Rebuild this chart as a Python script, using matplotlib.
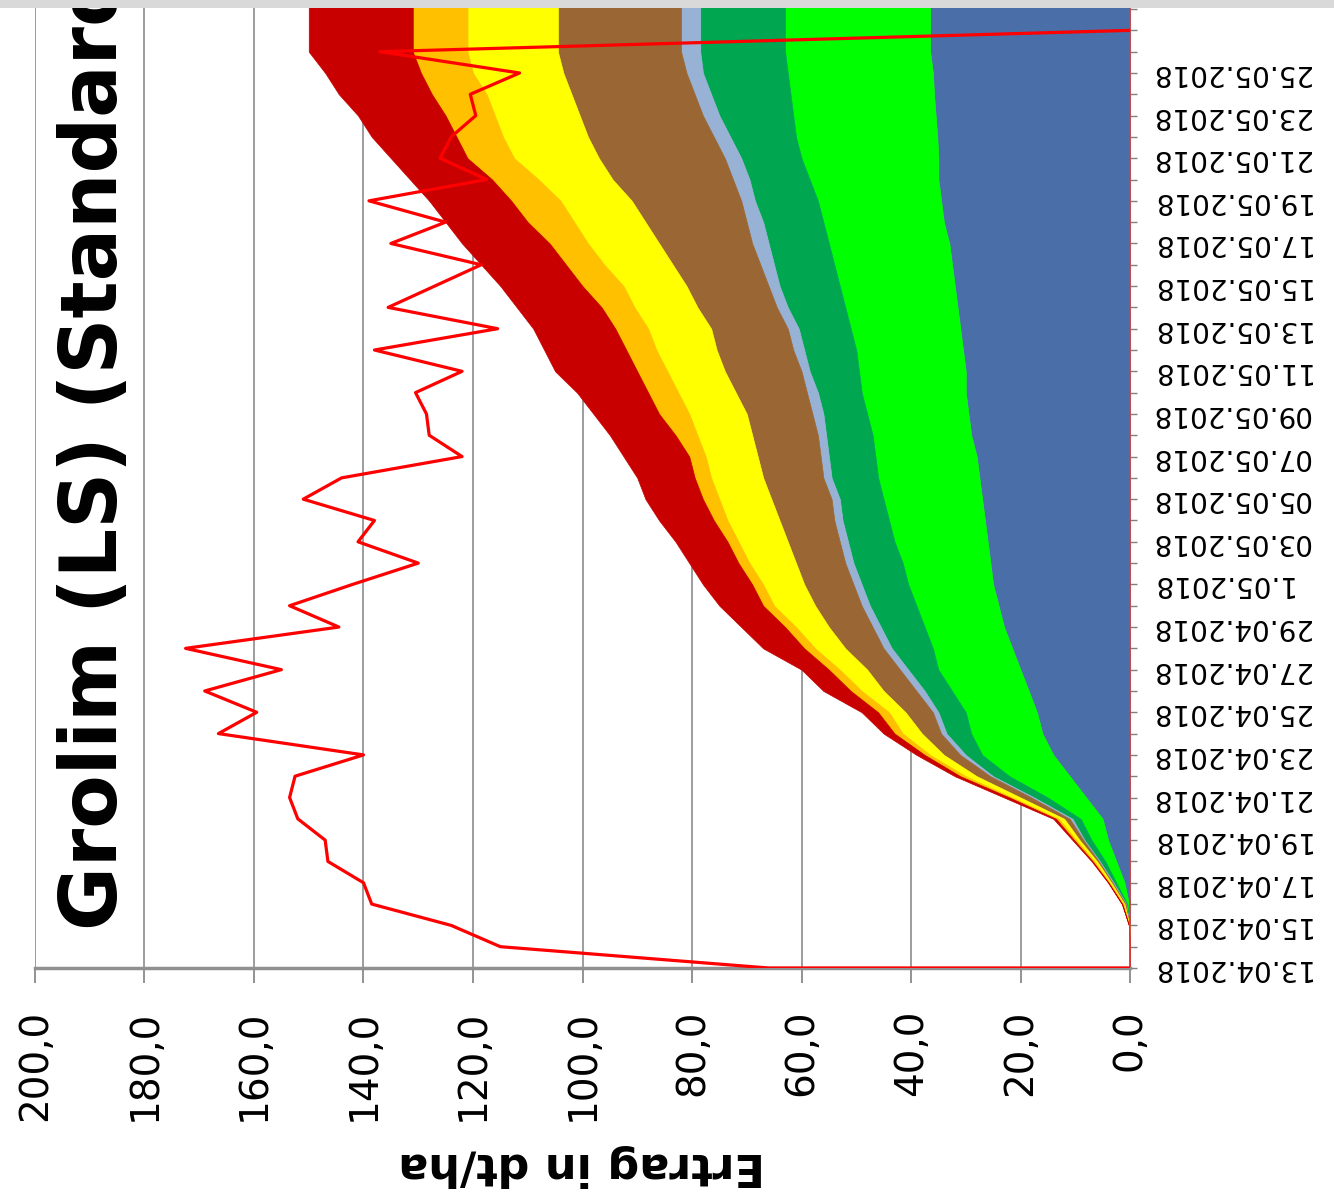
import numpy as np
import matplotlib.pyplot as plt
from matplotlib.patches import Rectangle
from matplotlib.ticker import FuncFormatter, MultipleLocator

# day 0 = 13.04.2018, one value per day; the picture is the chart turned 90 deg
date_labels = ["13.04.2018", "15.04.2018", "17.04.2018", "19.04.2018",
               "21.04.2018", "23.04.2018", "25.04.2018", "27.04.2018",
               "29.04.2018", "1.05.2018", "03.05.2018", "05.05.2018",
               "07.05.2018", "09.05.2018", "11.05.2018", "13.05.2018",
               "15.05.2018", "17.05.2018", "19.05.2018", "21.05.2018",
               "23.05.2018", "25.05.2018"]

# stacked layers (dt/ha), first layer sits on 0
blue = [0, 0, 0.1, 0.2, 1.0, 2.5, 4.0, 5.0, 8.0, 11, 14, 16, 17, 18.5, 20, 21.5,
        23, 24, 25, 25.5, 26, 26.5, 27, 27.5, 28, 29, 29.5, 30, 30, 30.5, 31,
        31.5, 32, 32.5, 33, 34, 34.5, 35, 35, 35.2, 35.5, 35.8, 36, 36.5,
        36.5, 36.5, 36.5]
light_green = [0, 0, 0, 0.3, 1.5, 2.0, 3.0, 4.0, 7.0, 11, 13, 13, 13, 14, 15,
               14.5, 14.5, 15, 15.5, 16, 17, 17.5, 18, 18.5, 18.5, 18, 18.5,
               19, 19.5, 19.5, 20, 20.5, 21, 21.5, 22, 22, 22.5, 23.5, 25,
               25.8, 26, 26.2, 26.5, 26.5, 26.5, 26.5, 26.5]
dark_green = [0, 0, 0, 0.2, 0.5, 1.0, 1.3, 1.5, 2.5, 3, 3, 4.5, 5, 5, 5.5, 7.5,
              8, 8.5, 8.5, 9, 8.5, 8.5, 8, 8.5, 8.5, 8.5, 8, 8, 9, 9.5, 9.5,
              10.5, 11, 11, 11, 11, 11.5, 11, 11, 12, 13.5, 14.5, 15.5, 15.5,
              15.5, 15.5, 15.5]
grey_blue = [0, 0, 0, 0.1, 0.2, 0.2, 0.2, 0.5, 0.5, 0.5, 1, 1, 1, 1.5, 1.5, 1.5,
             1.5, 1.5, 1.5, 1.5, 1.5, 1.5, 1.5, 1.5, 1.5, 1.5, 2, 2, 1.5, 2, 2,
             2, 2, 2.5, 3, 3, 2.5, 3, 3, 3, 3, 3, 3, 3.5, 3.5, 3.5, 3.5]
brown = [0, 0, 0, 0.2, 0.2, 0.3, 0.7, 1.0, 2.0, 2.5, 3, 3.5, 5, 6, 6, 7, 8, 8.5,
         9, 9, 9.5, 10, 11, 11, 11.5, 12, 12, 13, 14, 14, 14, 14.5, 15, 16, 17,
         18.5, 20, 22, 23, 23, 22.5, 22.5, 22.5, 22.5, 22.5, 22.5, 22.5]
yellow = [0, 0, 0, 0.2, 0.3, 0.5, 0.6, 1.0, 1.5, 2, 2.5, 3.5, 3, 4, 5, 5.5, 6,
          7.5, 7.5, 8.5, 9, 9.5, 9.5, 9.5, 9.5, 10, 10.5, 10.5, 10.5, 11, 11.5,
          11.5, 11.5, 12.5, 13, 13, 13, 13.5, 15.5, 15.5, 15.5, 15.5, 16.5,
          16.5, 16.5, 16.5, 16.5]
orange = [0, 0, 0.1, 0.2, 0.2, 0.3, 0.4, 0.5, 0.5, 1, 1, 1.5, 2, 2, 2, 2, 2, 2,
          2, 2, 2, 2.5, 3, 3, 3, 4, 5.5, 5.5, 5.5, 5.5, 6, 6, 7.5, 7, 7, 8.5, 9,
          8.5, 8.5, 8.5, 9, 10, 9.5, 10, 10, 10, 10]
dark_red = [0, 0, 0, 0.1, 0.1, 0.2, 0.3, 0.5, 1.0, 1, 1.5, 2, 3, 5, 5, 7.5, 8, 8,
            9, 9, 9.5, 10, 10.5, 10.5, 12, 12, 12, 13, 15, 15, 15, 15.5, 15,
            15.5, 16, 15, 15, 15, 14, 15.5, 16, 17, 17.5, 19, 19, 19, 19]

layers = [blue, light_green, dark_green, grey_blue, brown, yellow, orange, dark_red]
layer_colors = ['#4A6FA8', '#00FF00', '#00A650', '#98B2D6', '#9A6633',
                '#FFFF00', '#FFC000', '#C80000']

# red line (first point repeats day 0 at 0)
red_days = [0] + list(range(45))
red_vals = [0, 66, 115, 124, 138.5, 140, 146.5, 147, 152, 153.5, 152.5, 140,
            166.5, 159.5, 169, 155, 172.5, 144.5, 153.5, 142, 130, 141, 138,
            151, 144, 122, 128, 128.5, 130.5, 122, 138, 115.5, 135.5, 127,
            118.5, 135, 125, 139, 117.5, 126, 124, 119.5, 120.5, 111.5, 137, 0]

W, H = 1334, 1203
n_days = len(blue) - 1
px_day = 21.31

fig = plt.figure(figsize=(W / 100, H / 100), dpi=100)
ax = fig.add_axes([35 / W, (H - 968) / H, 1095 / W, n_days * px_day / H])

days = np.arange(len(blue))
left = np.zeros(len(days))
for vals, c in zip(layers, layer_colors):
    right = left + np.array(vals)
    ax.fill_betweenx(days, left, right, facecolor=c, edgecolor=c, lw=0.5, zorder=2)
    left = right

ax.plot(red_vals, red_days, color='#FF0000', lw=2.3, zorder=4)

ax.set_xlim(200, 0)
ax.set_ylim(0, n_days)

# value axis (original y axis), now along the bottom
ax.xaxis.set_major_locator(MultipleLocator(20))
ax.xaxis.set_major_formatter(FuncFormatter(lambda v, _: f"{v:.1f}".replace('.', ',')))
ax.tick_params(axis='x', direction='out', length=11, width=1.2, color='#808080',
               labelsize=28, labelrotation=90, pad=19)
ax.grid(axis='x', color='#8c8c8c', lw=1.2)
ax.set_axisbelow(True)

# date axis, now along the right edge
ax.yaxis.tick_right()
ax.set_yticks(range(0, 43, 2), labels=date_labels)
ax.set_yticks(range(n_days + 1), minor=True)
ax.tick_params(axis='y', which='both', direction='out', length=5, width=1,
               color='#808080', labelsize=20, pad=10, labelrotation=180)
for lab in ax.get_yticklabels():
    lab.set_va('center')

for s in ('top', 'left'):
    ax.spines[s].set_visible(False)
ax.spines['bottom'].set_color('#909090')
ax.spines['bottom'].set_linewidth(2.5)
ax.spines['right'].set_color('#D84040')
ax.spines['right'].set_linewidth(1.2)

fig.text(582 / W, 1 - 1165 / H, "Ertrag in dt/ha", rotation=180,
         ha='center', va='center', fontsize=32, fontweight='bold')
fig.text(95 / W, 1 - 930 / H, "Grolim (LS) (Standard)", rotation=90,
         ha='center', va='bottom', fontsize=56, fontweight='bold')

fig.add_artist(Rectangle((0, 1 - 8 / H), 1, 8 / H, transform=fig.transFigure,
                         facecolor='#d9d9d9', edgecolor='none', zorder=5))

fig.savefig('out.png', dpi=100)
